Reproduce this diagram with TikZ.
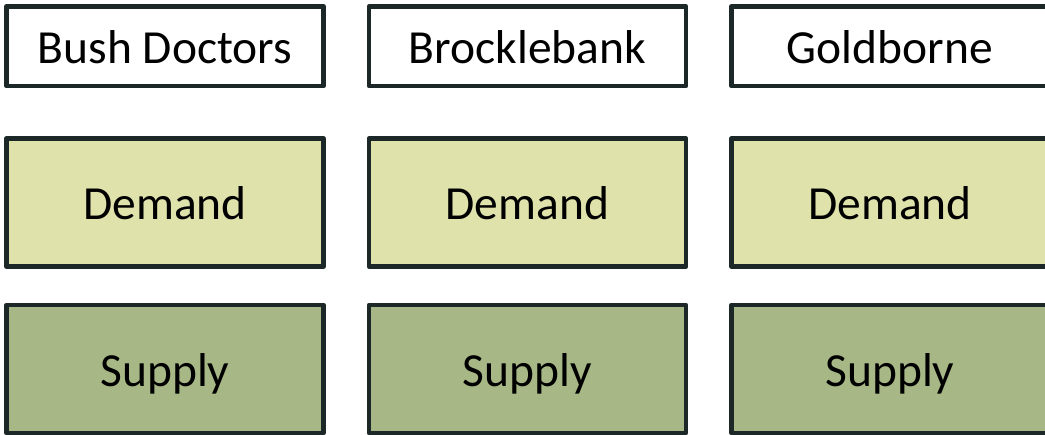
\documentclass[tikz,border=0pt]{standalone}
\usepackage{fontspec}
\setmainfont{Carlito}
\definecolor{edge}{HTML}{1C2727}
\definecolor{demandfill}{HTML}{DFE2AA}
\definecolor{supplyfill}{HTML}{A7B886}
\begin{document}
\begin{tikzpicture}[x=1pt,y=-1pt,
  box/.style={draw=edge, line width=4.5pt, line join=round, minimum width=317pt,
    inner sep=0pt, text height=35pt, text depth=0pt, font=\fontsize{47.5}{52}\selectfont},
  namebox/.style={box, fill=white, minimum height=79.5pt},
  demandbox/.style={box, fill=demandfill, minimum height=128pt},
  supplybox/.style={box, fill=supplyfill, minimum height=128pt}]
\useasboundingbox (0,0) rectangle (1045,435);
\node[namebox] (n1) at (165,46.25) {Bush Doctors};
\node[namebox] (n2) at (527.5,46.25) {Brocklebank};
\node[namebox] (n3) at (890,46.25) {Goldborne};
\node[demandbox] (d1) at (165,202.5) {Demand};
\node[demandbox] (d2) at (527.5,202.5) {Demand};
\node[demandbox] (d3) at (890,202.5) {Demand};
\node[supplybox] (s1) at (165,369) {Supply};
\node[supplybox] (s2) at (527.5,369) {Supply};
\node[supplybox] (s3) at (890,369) {Supply};
\end{tikzpicture}
\end{document}
